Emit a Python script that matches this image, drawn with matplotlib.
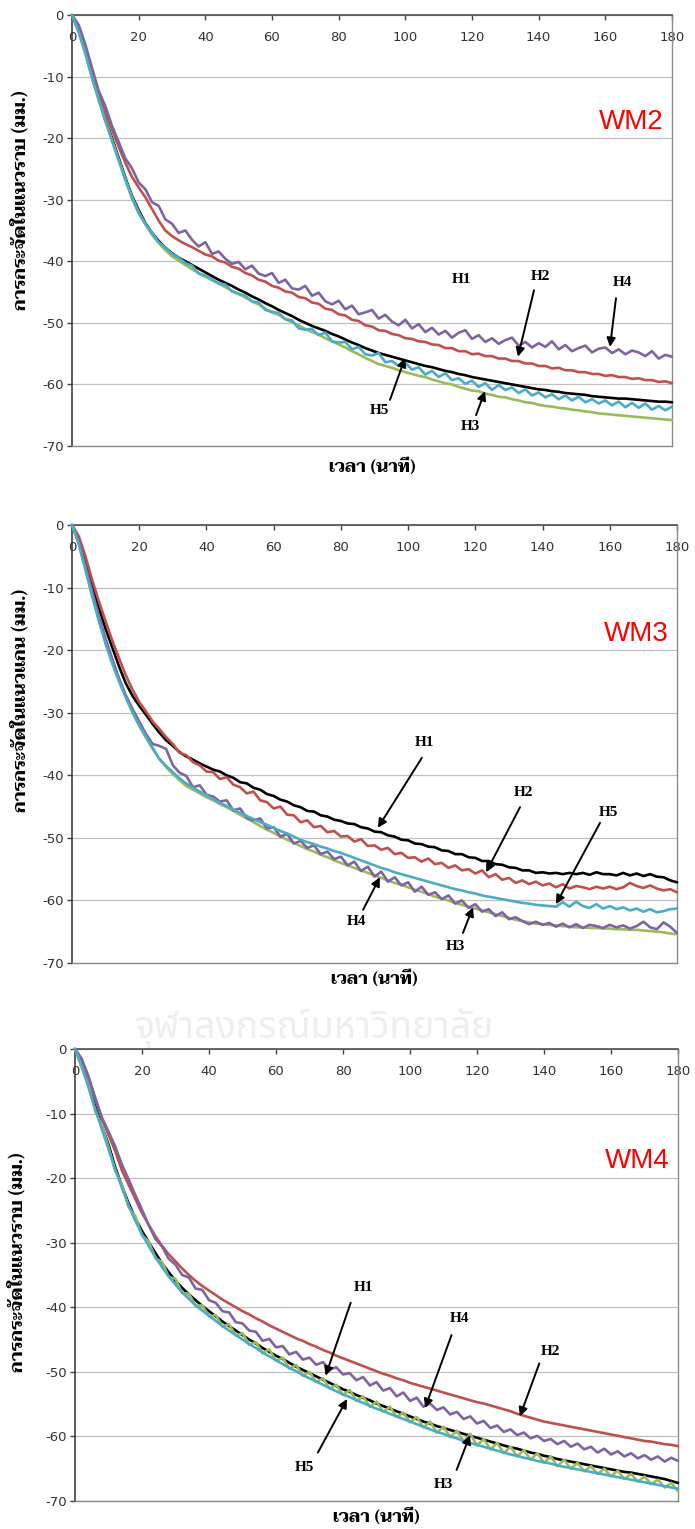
import numpy as np
import matplotlib
matplotlib.use("Agg")
import matplotlib.pyplot as plt

plt.rcParams["axes.unicode_minus"] = False

# Sampling times (minutes)
TIME = np.arange(0, 181, 2)

# ---- WM2 : horizontal displacement (mm) ----
WM2_H1 = [0, -2.5, -5.8, -10.0, -13.5, -17.0, -20.0, -23.2, -26.4, -29.4,
          -31.7, -33.8, -35.4, -36.7, -37.8, -38.7, -39.4, -40.0, -40.6, -41.2,
          -41.8, -42.4, -43.0, -43.5, -44.0, -44.6, -45.1, -45.7, -46.2, -46.8,
          -47.3, -47.9, -48.4, -48.9, -49.5, -50.0, -50.5, -50.9, -51.3, -51.8,
          -52.2, -52.7, -53.2, -53.6, -54.1, -54.5, -54.9, -55.2, -55.5, -55.8,
          -56.1, -56.4, -56.7, -57.0, -57.2, -57.5, -57.8, -58.0, -58.3, -58.5,
          -58.8, -59.0, -59.2, -59.4, -59.6, -59.8, -60.0, -60.2, -60.4, -60.6,
          -60.8, -60.9, -61.1, -61.2, -61.4, -61.5, -61.6, -61.7, -61.9, -62.0,
          -62.1, -62.2, -62.3, -62.3, -62.4, -62.5, -62.6, -62.7, -62.8, -62.8,
          -62.9]
WM2_H2 = [0, -2.2, -5.3, -9.4, -12.8, -15.8, -18.6, -21.4, -24.0, -26.3,
          -28.0, -29.6, -31.5, -33.4, -35.0, -35.9, -36.6, -37.2, -37.7, -38.3,
          -38.9, -39.2, -39.9, -40.2, -40.9, -41.2, -41.9, -42.3, -43.0, -43.3,
          -44.0, -44.3, -44.9, -45.1, -45.8, -46.0, -46.7, -46.9, -47.7, -47.9,
          -48.6, -48.8, -49.5, -49.7, -50.4, -50.6, -51.2, -51.3, -51.8, -52.0,
          -52.5, -52.6, -53.0, -53.1, -53.5, -53.6, -54.1, -54.1, -54.6, -54.6,
          -55.1, -55.0, -55.4, -55.4, -55.8, -55.8, -56.2, -56.2, -56.6, -56.6,
          -57.0, -57.0, -57.4, -57.3, -57.7, -57.7, -58.0, -58.0, -58.3, -58.3,
          -58.6, -58.5, -58.8, -58.8, -59.1, -59.0, -59.3, -59.3, -59.6, -59.5,
          -59.8]
WM2_H3 = [0, -2.7, -6.0, -10.2, -13.8, -17.2, -20.3, -23.5, -26.6, -29.6,
          -32.0, -34.0, -35.7, -37.0, -38.2, -39.2, -39.9, -40.6, -41.3, -41.9,
          -42.5, -43.1, -43.6, -44.2, -44.8, -45.3, -45.9, -46.5, -47.0, -47.7,
          -48.3, -48.7, -49.4, -49.9, -50.4, -51.0, -51.5, -51.9, -52.5, -53.0,
          -53.5, -54.0, -54.6, -55.1, -55.7, -56.2, -56.7, -57.0, -57.3, -57.7,
          -58.0, -58.3, -58.6, -58.8, -59.2, -59.5, -59.8, -60.0, -60.4, -60.7,
          -61.0, -61.1, -61.5, -61.7, -62.0, -62.1, -62.4, -62.6, -62.9, -63.0,
          -63.3, -63.5, -63.6, -63.8, -63.9, -64.1, -64.2, -64.4, -64.5, -64.7,
          -64.8, -64.9, -65.0, -65.1, -65.2, -65.3, -65.4, -65.5, -65.6, -65.7,
          -65.8]
WM2_H4 = [0, -1.6, -4.8, -8.6, -12.3, -14.8, -18.0, -20.6, -23.3, -24.9,
          -27.2, -28.3, -30.4, -31.0, -33.2, -33.9, -35.4, -35.0, -36.5, -37.6,
          -36.9, -38.8, -38.4, -39.6, -40.4, -40.1, -41.3, -40.7, -42.0, -42.4,
          -41.9, -43.5, -43.0, -44.4, -44.6, -44.0, -45.6, -45.1, -46.5, -47.0,
          -46.4, -47.8, -47.2, -48.6, -48.3, -47.9, -49.3, -48.7, -49.8, -50.4,
          -49.5, -50.9, -50.2, -51.5, -50.8, -51.9, -51.3, -52.4, -51.6, -51.2,
          -52.6, -52.0, -53.1, -52.5, -53.4, -52.8, -52.4, -53.7, -53.1, -54.0,
          -53.3, -53.9, -53.0, -54.3, -53.6, -54.6, -54.1, -53.7, -54.8, -54.2,
          -54.0, -54.9, -54.3, -55.1, -54.5, -54.8, -55.4, -54.6, -55.8, -55.2,
          -55.5]
WM2_H5 = [0, -2.8, -6.3, -10.2, -13.7, -17.2, -20.4, -23.6, -26.8, -29.8,
          -32.2, -33.9, -35.4, -36.9, -37.8, -38.8, -39.4, -40.3, -40.7, -42.0,
          -42.3, -42.9, -43.6, -43.8, -44.9, -45.3, -45.6, -46.5, -46.7, -47.9,
          -48.2, -48.4, -49.4, -49.6, -50.9, -51.1, -51.0, -52.0, -51.6, -53.0,
          -53.2, -53.1, -54.3, -53.9, -55.1, -55.3, -54.9, -56.4, -56.2, -57.0,
          -56.5, -57.6, -57.2, -58.4, -57.8, -58.8, -58.2, -59.3, -59.0, -59.9,
          -59.4, -60.4, -59.8, -60.9, -60.1, -60.9, -60.5, -61.4, -60.8, -61.8,
          -61.3, -62.1, -61.6, -62.4, -61.8, -62.6, -62.0, -62.9, -62.4, -63.1,
          -62.6, -63.4, -62.8, -63.7, -63.0, -63.8, -63.1, -64.1, -63.5, -64.2,
          -63.6]

# ---- WM3 : axial displacement (mm) ----
WM3_H1 = [0, -2.4, -6.0, -9.8, -13.2, -16.6, -19.6, -22.6, -25.3, -27.3,
          -28.9, -30.3, -31.8, -33.2, -34.4, -35.3, -36.3, -37.0, -37.5, -38.1,
          -38.6, -39.1, -39.4, -40.0, -40.4, -41.1, -41.3, -42.0, -42.3, -43.0,
          -43.3, -43.9, -44.2, -44.8, -45.1, -45.7, -45.8, -46.4, -46.6, -47.1,
          -47.3, -47.7, -47.8, -48.3, -48.5, -49.0, -49.1, -49.6, -49.8, -50.3,
          -50.4, -50.9, -51.0, -51.4, -51.5, -52.0, -52.1, -52.6, -52.6, -53.1,
          -53.2, -53.7, -53.7, -54.2, -54.3, -54.7, -54.8, -55.2, -55.2, -55.6,
          -55.5, -55.7, -55.6, -55.8, -55.6, -55.8, -55.6, -55.9, -55.5, -55.8,
          -55.8, -56.0, -55.6, -56.0, -55.7, -56.1, -55.8, -56.2, -56.3, -56.8,
          -57.1]
WM3_H2 = [0, -1.8, -5.0, -8.8, -12.2, -15.4, -18.5, -21.3, -24.0, -26.3,
          -28.3, -29.8, -31.4, -32.6, -33.9, -35.0, -36.4, -36.8, -37.9, -38.4,
          -39.4, -39.5, -40.6, -40.3, -41.5, -41.9, -42.9, -42.6, -44.0, -44.3,
          -45.3, -45.0, -46.3, -46.4, -47.5, -47.2, -48.3, -48.1, -49.1, -48.9,
          -49.8, -49.7, -50.6, -50.2, -51.3, -51.2, -51.9, -51.6, -52.6, -52.4,
          -53.2, -53.1, -53.8, -53.3, -54.2, -54.0, -54.8, -54.4, -55.2, -55.0,
          -55.7, -55.2, -56.3, -55.8, -56.7, -56.4, -57.2, -56.8, -57.4, -57.0,
          -57.6, -57.3, -57.9, -57.4, -58.1, -57.7, -57.9, -58.2, -57.8, -58.1,
          -57.8, -58.2, -57.9, -57.2, -57.7, -58.0, -57.6, -58.1, -58.4, -58.2,
          -58.7]
WM3_H3 = [0, -3.0, -7.0, -11.1, -15.1, -18.7, -21.9, -24.8, -27.5, -29.9,
          -32.1, -34.0, -35.8, -37.4, -38.7, -39.8, -40.8, -41.7, -42.3, -42.9,
          -43.5, -44.0, -44.6, -45.1, -45.7, -46.3, -46.9, -47.5, -48.1, -48.7,
          -49.2, -49.8, -50.3, -50.8, -51.3, -51.8, -52.2, -52.7, -53.1, -53.6,
          -54.0, -54.4, -54.8, -55.2, -55.6, -56.0, -56.4, -56.8, -57.2, -57.5,
          -57.9, -58.3, -58.6, -59.0, -59.4, -59.7, -60.0, -60.4, -60.7, -61.0,
          -61.3, -61.6, -61.9, -62.2, -62.5, -62.8, -63.1, -63.3, -63.5, -63.7,
          -63.8, -63.9, -64.0, -64.1, -64.2, -64.3, -64.3, -64.4, -64.4, -64.5,
          -64.5, -64.6, -64.6, -64.7, -64.7, -64.8, -64.9, -65.0, -65.1, -65.3,
          -65.4]
WM3_H4 = [0, -2.6, -6.6, -10.6, -14.6, -18.2, -21.4, -24.5, -27.2, -29.4,
          -31.4, -33.4, -35.0, -35.3, -35.8, -38.4, -39.6, -40.1, -41.9, -41.6,
          -43.1, -43.4, -44.2, -44.0, -45.6, -45.3, -46.8, -47.2, -46.9, -48.5,
          -48.3, -49.8, -49.4, -50.9, -50.5, -51.6, -51.2, -52.6, -52.2, -53.4,
          -53.0, -54.4, -53.8, -55.3, -54.6, -56.2, -55.4, -57.0, -56.3, -57.6,
          -57.1, -58.6, -57.8, -59.1, -58.7, -59.8, -59.2, -60.5, -60.0, -61.2,
          -60.6, -61.8, -61.4, -62.5, -61.9, -63.0, -62.7, -63.3, -63.8, -63.4,
          -63.9, -63.6, -64.2, -63.7, -64.3, -63.8, -64.4, -63.9, -64.1, -64.4,
          -63.9, -64.3, -64.0, -64.5, -64.1, -63.4, -64.3, -64.6, -63.5, -64.2,
          -65.2]
WM3_H5 = [0, -3.0, -7.2, -11.4, -15.4, -19.0, -22.2, -25.0, -27.6, -29.9,
          -32.0, -33.8, -35.6, -37.4, -38.5, -39.5, -40.5, -41.3, -42.0, -42.6,
          -43.2, -43.8, -44.4, -44.9, -45.5, -46.0, -46.5, -47.0, -47.5, -47.9,
          -48.4, -48.9, -49.3, -49.8, -50.3, -50.7, -51.0, -51.4, -51.7, -52.1,
          -52.4, -52.8, -53.2, -53.6, -54.0, -54.4, -54.8, -55.1, -55.5, -55.8,
          -56.1, -56.4, -56.7, -57.0, -57.3, -57.6, -57.9, -58.2, -58.4, -58.7,
          -58.9, -59.2, -59.4, -59.6, -59.8, -60.0, -60.2, -60.4, -60.5, -60.7,
          -60.8, -60.9, -61.0, -60.3, -61.0, -60.2, -60.9, -61.2, -60.6, -61.3,
          -60.9, -61.4, -61.1, -61.6, -61.3, -61.8, -61.4, -61.9, -61.7, -61.4,
          -61.3]

# ---- WM4 : horizontal displacement (mm) ----
WM4_H1 = [0, -2.4, -5.6, -8.8, -11.9, -14.8, -18.3, -21.2, -23.9, -26.2,
          -28.2, -29.9, -31.6, -33.2, -34.6, -35.9, -37.0, -38.0, -38.9, -39.8,
          -40.6, -41.4, -42.2, -42.9, -43.6, -44.3, -45.0, -45.6, -46.3, -46.9,
          -47.5, -48.0, -48.6, -49.2, -49.7, -50.2, -50.7, -51.2, -51.7, -52.2,
          -52.7, -53.1, -53.6, -54.0, -54.4, -54.9, -55.3, -55.7, -56.1, -56.5,
          -56.9, -57.3, -57.7, -58.0, -58.4, -58.7, -59.0, -59.3, -59.6, -59.9,
          -60.2, -60.5, -60.8, -61.1, -61.4, -61.7, -61.9, -62.2, -62.5, -62.7,
          -63.0, -63.2, -63.5, -63.7, -63.9, -64.1, -64.3, -64.5, -64.7, -64.9,
          -65.1, -65.3, -65.5, -65.6, -65.8, -66.0, -66.2, -66.4, -66.6, -66.9,
          -67.2]
WM4_H2 = [0, -1.8, -4.6, -7.6, -10.7, -13.3, -15.8, -18.8, -21.0, -23.2,
          -25.4, -27.2, -29.0, -30.5, -31.8, -32.9, -34.0, -35.0, -35.9, -36.7,
          -37.4, -38.1, -38.8, -39.4, -40.0, -40.6, -41.1, -41.7, -42.2, -42.8,
          -43.3, -43.8, -44.3, -44.8, -45.2, -45.7, -46.1, -46.6, -47.0, -47.5,
          -47.9, -48.3, -48.7, -49.1, -49.5, -49.9, -50.3, -50.6, -51.0, -51.3,
          -51.7, -52.0, -52.3, -52.6, -52.9, -53.2, -53.5, -53.8, -54.1, -54.4,
          -54.7, -54.9, -55.2, -55.5, -55.8, -56.1, -56.5, -56.8, -57.1, -57.4,
          -57.7, -57.9, -58.1, -58.3, -58.5, -58.7, -58.9, -59.1, -59.3, -59.5,
          -59.7, -59.9, -60.1, -60.3, -60.5, -60.7, -60.8, -61.0, -61.2, -61.3,
          -61.5]
WM4_H3 = [0, -2.9, -5.5, -9.6, -11.8, -15.2, -18.9, -21.0, -24.5, -25.9,
          -28.9, -29.8, -32.4, -33.0, -35.3, -35.6, -37.8, -37.9, -39.8, -39.7,
          -41.4, -41.2, -43.0, -42.6, -44.4, -44.0, -45.8, -45.4, -47.1, -46.5,
          -48.3, -47.8, -49.5, -48.9, -50.6, -50.0, -51.6, -51.0, -52.6, -52.0,
          -53.6, -52.8, -54.5, -53.8, -55.4, -54.6, -56.2, -55.4, -57.0, -56.3,
          -57.8, -57.0, -58.6, -57.7, -59.4, -58.5, -60.1, -59.1, -60.8, -59.6,
          -61.4, -60.4, -62.0, -61.0, -62.6, -61.6, -63.1, -62.1, -63.6, -62.6,
          -64.1, -63.1, -64.6, -63.6, -65.0, -64.1, -65.4, -64.6, -65.8, -65.0,
          -66.2, -65.3, -66.6, -65.8, -67.0, -66.2, -67.4, -66.7, -67.9, -67.2,
          -68.5]
WM4_H4 = [0, -1.5, -4.2, -7.5, -10.6, -12.8, -15.1, -17.9, -20.2, -22.6,
          -24.9, -27.3, -29.4, -30.6, -32.5, -33.4, -35.0, -35.4, -37.1, -37.3,
          -38.9, -39.3, -40.6, -40.8, -42.3, -42.5, -43.6, -43.8, -45.2, -44.9,
          -46.2, -46.0, -47.3, -46.9, -48.1, -47.8, -48.9, -48.5, -49.6, -49.3,
          -50.4, -50.2, -51.3, -50.8, -52.1, -51.6, -52.9, -52.5, -53.8, -53.2,
          -54.5, -54.0, -55.4, -54.9, -55.9, -55.5, -56.6, -56.2, -57.3, -56.9,
          -58.0, -57.6, -58.7, -58.3, -59.3, -58.9, -59.8, -59.4, -60.3, -59.9,
          -60.7, -60.4, -61.2, -60.7, -61.6, -61.1, -62.0, -61.6, -62.5, -61.9,
          -62.8, -62.3, -63.1, -62.6, -63.4, -62.9, -63.6, -63.1, -63.9, -63.3,
          -63.8]
WM4_H5 = [0, -2.6, -5.9, -9.2, -12.4, -15.5, -18.6, -21.5, -24.2, -26.6,
          -28.7, -30.5, -32.2, -33.8, -35.2, -36.5, -37.7, -38.7, -39.7, -40.5,
          -41.3, -42.1, -42.9, -43.6, -44.3, -45.0, -45.7, -46.3, -47.0, -47.6,
          -48.2, -48.8, -49.4, -49.9, -50.5, -51.0, -51.5, -52.0, -52.5, -53.0,
          -53.5, -53.9, -54.4, -54.8, -55.3, -55.7, -56.1, -56.5, -56.9, -57.3,
          -57.7, -58.1, -58.5, -58.9, -59.3, -59.6, -60.0, -60.3, -60.7, -61.0,
          -61.3, -61.6, -61.9, -62.2, -62.5, -62.8, -63.0, -63.3, -63.5, -63.8,
          -64.0, -64.2, -64.5, -64.7, -64.9, -65.1, -65.3, -65.5, -65.7, -65.9,
          -66.1, -66.3, -66.5, -66.7, -66.9, -67.1, -67.3, -67.5, -67.7, -67.9,
          -68.1]

SERIES_NAMES = ["H1", "H2", "H3", "H4", "H5"]
SERIES_COLORS = ["#000000", "#C0504D", "#9BBB59", "#8064A2", "#4BACC6"]
X_TICKS = list(range(0, 181, 20))
Y_TICKS = list(range(-70, 1, 10))

PANEL_TITLES = ["WM2", "WM3", "WM4"]
Y_LABELS = ["การกระจัดในแนวราบ (มม.)", "การกระจัดในแนวแกน (มม.)", "การกระจัดในแนวราบ (มม.)"]
X_LABEL = "เวลา (นาที)"
WATERMARK = "จุฬาลงกรณ์มหาวิทยาลัย"

# label, text position, arrow tail, arrow head (data coordinates)
NOTES_WM2 = [("H1", (117, -42.9), None, None),
             ("H2", (140.4, -42.4), (138.6, -44.7), (133.8, -55.5)),
             ("H4", (165, -43.5), (163.2, -46.0), (161.4, -53.9)),
             ("H5", (92.1, -64.2), (95.4, -62.5), (99.9, -55.7)),
             ("H3", (119.4, -66.9), (121.2, -65.0), (123.9, -61.1))]
NOTES_WM3 = [("H1", (105, -34.8), (104.1, -37.2), (91.0, -48.4)),
             ("H2", (134.2, -42.8), (133.3, -45.1), (123.2, -55.5)),
             ("H5", (159.5, -45.9), (157.1, -47.6), (144.0, -60.6)),
             ("H4", (84.5, -63.4), (86.6, -61.5), (91.6, -56.3)),
             ("H3", (114.2, -67.4), (116.3, -65.2), (119.3, -61.1))]
NOTES_WM4 = [("H1", (86, -36.9), (82.3, -39.3), (74.8, -50.6)),
             ("H4", (114.9, -41.8), (112.4, -44.3), (104.5, -55.6)),
             ("H2", (141.8, -46.9), (138.6, -48.7), (132.8, -56.9)),
             ("H5", (68.4, -64.8), (72.5, -62.5), (81.2, -54.2)),
             ("H3", (110.1, -67.5), (113.9, -65.2), (117.9, -59.8))]

THAI = ["Taviraj", "Noto Serif Thai", "Noto Sans Thai", "DejaVu Sans"]

W, H = 695, 1529
fig = plt.figure(figsize=(W / 100, H / 100), dpi=100)
fig.patch.set_facecolor("white")

# watermark between the second and third panel
fig.text(314 / W, 1 - 1028 / H, WATERMARK, family=["Noto Sans Thai", "DejaVu Sans"],
         fontsize=27, fontweight="bold", color="#eeeeee", ha="center",
         va="center", zorder=0)

PANELS = [
    ((72, 15, 672, 446), [WM2_H1, WM2_H2, WM2_H3, WM2_H4, WM2_H5], NOTES_WM2, 466),
    ((72, 525, 677, 963), [WM3_H1, WM3_H2, WM3_H3, WM3_H4, WM3_H5], NOTES_WM3, 978),
    ((75, 1049, 678, 1501), [WM4_H1, WM4_H2, WM4_H3, WM4_H4, WM4_H5], NOTES_WM4, 1516),
]
YLABEL_CENTERS = [(20, 200), (20, 700), (17, 1262)]

for i, ((l, t, r, b), series, notes, xlab_y) in enumerate(PANELS):
    ax = fig.add_axes([l / W, 1 - b / H, (r - l) / W, (b - t) / H])
    ax.set_xlim(0, 180)
    ax.set_ylim(-70, 0)
    ax.set_facecolor("none")

    for vals, name, col in zip(series, SERIES_NAMES, SERIES_COLORS):
        ax.plot(TIME, vals, color=col, lw=1.9, solid_joinstyle="round",
                solid_capstyle="round", label=name, zorder=3, clip_on=False)

    ax.set_yticks(Y_TICKS)
    ax.set_xticks(X_TICKS)
    ax.yaxis.grid(True, color="#c0c0c0", lw=0.9)
    ax.set_axisbelow(True)

    for side, colr, lw in [("left", "#303030", 1.1), ("top", "#404040", 1.1),
                           ("right", "#8a8a8a", 1.0), ("bottom", "#8a8a8a", 1.0)]:
        ax.spines[side].set_color(colr)
        ax.spines[side].set_linewidth(lw)

    ax.tick_params(axis="y", direction="out", length=3.5, width=1.0,
                   color="#404040", labelsize=9.5, labelcolor="#333333", pad=2.5)
    ax.tick_params(axis="x", which="both", bottom=False, labelbottom=False,
                   top=True, labeltop=True, direction="in", length=3.5,
                   width=1.0, color="#404040", labelsize=9.5,
                   labelcolor="#333333", pad=-21)

    ph = b - t
    pw = r - l
    ax.text(0.5, -(xlab_y - b) / ph, X_LABEL, transform=ax.transAxes,
            family=THAI, fontsize=12.5, fontweight="bold", ha="center",
            va="center")
    cx, cy = YLABEL_CENTERS[i]
    ax.text((cx - l) / pw, 1 - (cy - t) / ph, Y_LABELS[i],
            transform=ax.transAxes, family=THAI, fontsize=13,
            fontweight="bold", rotation=90, ha="center", va="center")

    ax.text(177.5, -17.4, PANEL_TITLES[i], color="#ff0000", fontsize=20,
            family="Liberation Sans", ha="right", va="center")

    for lab, pos, tail, head in notes:
        ax.text(pos[0], pos[1], lab, family="Liberation Serif",
                fontweight="bold", fontsize=11, ha="center", va="center",
                zorder=5)
        if tail is not None:
            ax.annotate("", xy=head, xytext=tail,
                        arrowprops=dict(arrowstyle="-|>", color="black",
                                        lw=1.4, mutation_scale=13,
                                        shrinkA=0, shrinkB=0), zorder=5)

fig.savefig("out.png", dpi=100, facecolor="white")
